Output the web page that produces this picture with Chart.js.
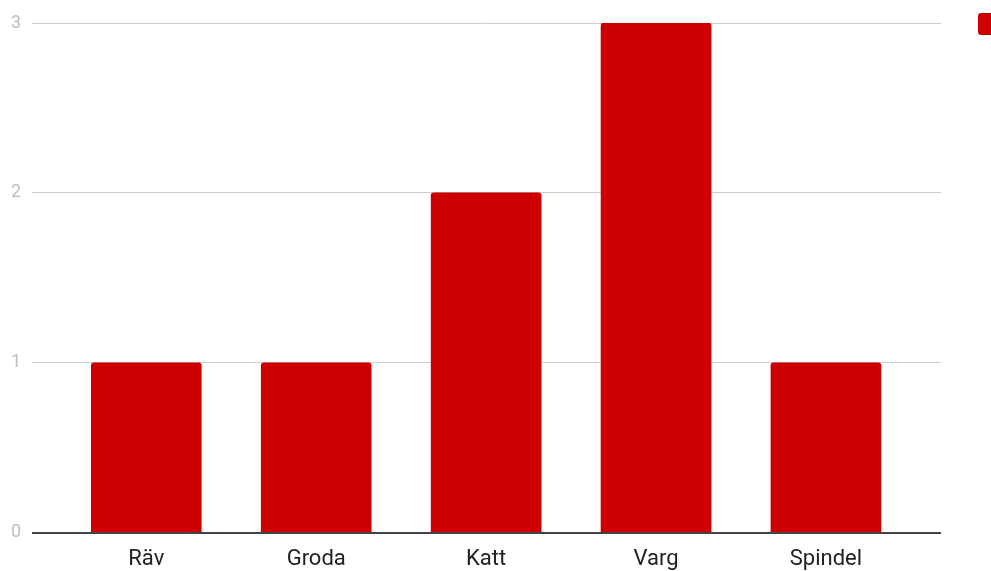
<!DOCTYPE html>
<html lang="sv">
<head>
    <meta charset="UTF-8">
    <title>Djur</title>
    <script src="https://cdn.jsdelivr.net/npm/chart.js"></script>
    <style>
        html, body { margin: 0; padding: 0; background: #fff; overflow: hidden; }
        .wrap { position: relative; width: 991px; height: 571px; overflow: hidden; }
        .legend { position: absolute; left: 978px; top: 13px; display: flex; align-items: center;
                  font-family: Roboto, sans-serif; font-size: 16px; color: #222; white-space: nowrap; }
        .legend span.box { width: 22px; height: 22px; background: #cc0000; border-radius: 3px; margin-right: 8px; }
    </style>
</head>
<body>
    <div class="wrap">
        <canvas id="chart" width="991" height="571"></canvas>
        <div class="legend"><span class="box"></span><span id="legendText"></span></div>
    </div>

    <script>
    // data
    const categories = ['Räv', 'Groda', 'Katt', 'Varg', 'Spindel'];
    const counts = [1, 1, 2, 3, 1];
    const yTicks = [0, 1, 2, 3];
    const seriesName = 'Antal';

    document.getElementById('legendText').textContent = seriesName;

    const ctx = document.getElementById('chart').getContext('2d');
    new Chart(ctx, {
        type: 'bar',
        data: {
            datasets: [{
                label: seriesName,
                data: categories.map((c, i) => ({ x: i, y: counts[i] })),
                backgroundColor: '#cc0000',
                barThickness: 110,
                borderRadius: { topLeft: 3, topRight: 3 },
                borderSkipped: 'start'
            }]
        },
        options: {
            responsive: false,
            animation: false,
            layout: { padding: { left: 0, right: 50, top: 23, bottom: -16 } },
            plugins: { legend: { display: false }, tooltip: { enabled: false } },
            scales: {
                x: {
                    type: 'linear',
                    offset: false,
                    bounds: 'data',
                    min: -0.672,
                    max: 4.677,
                    grid: { display: false, drawTicks: false },
                    border: { display: false },
                    afterBuildTicks: axis => { axis.ticks = categories.map((c, i) => ({ value: i })); },
                    ticks: {
                        padding: 14,
                        color: '#222',
                        font: { family: 'Roboto', size: 22 },
                        autoSkip: false,
                        maxRotation: 0,
                        callback: v => categories[v]
                    }
                },
                y: {
                    min: 0,
                    max: 3,
                    afterBuildTicks: axis => { axis.ticks = yTicks.map(v => ({ value: v })); },
                    grid: {
                        drawTicks: false,
                        color: c => c.tick && c.tick.value === 0 ? '#444' : '#cccccc',
                        lineWidth: c => c.tick && c.tick.value === 0 ? 2 : 1
                    },
                    border: { display: false },
                    ticks: {
                        padding: 11,
                        color: '#bdbdbd',
                        font: { family: 'Roboto', size: 18 }
                    }
                }
            }
        }
    });
    </script>
</body>
</html>
